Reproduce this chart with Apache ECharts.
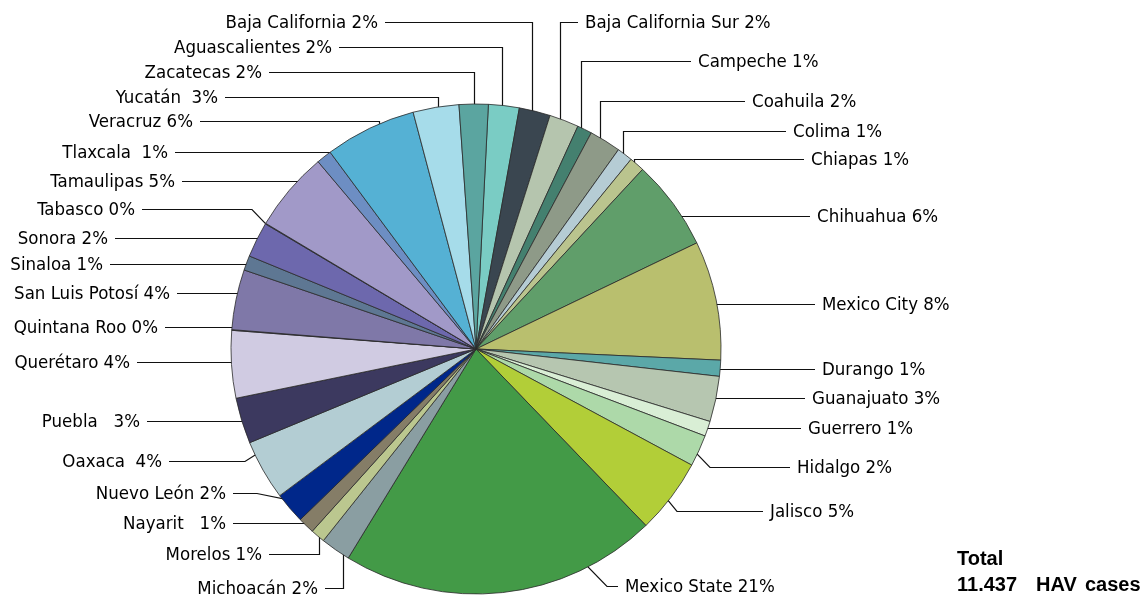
<!DOCTYPE html>
<html>
<head>
<meta charset="utf-8">
<script src="https://cdn.jsdelivr.net/npm/echarts@6/dist/echarts.min.js"></script>
<style>
  html, body { margin: 0; padding: 0; background: #fff; }
  #chart { width: 1144px; height: 596px; }
</style>
</head>
<body>
<div id="chart"></div>
<script>
const states = ['Aguascalientes', 'Baja California', 'Baja California Sur', 'Campeche', 'Coahuila',
  'Colima', 'Chiapas', 'Chihuahua', 'Mexico City', 'Durango', 'Guanajuato', 'Guerrero', 'Hidalgo',
  'Jalisco', 'Mexico State', 'Michoacán', 'Morelos', 'Nayarit', 'Nuevo León', 'Oaxaca', 'Puebla',
  'Querétaro', 'Quintana Roo', 'San Luis Potosí', 'Sinaloa', 'Sonora', 'Tabasco', 'Tamaulipas',
  'Tlaxcala', 'Veracruz', 'Yucatán', 'Zacatecas']

// HAV cases per state (total ~11.437)
const cases = [232, 235, 222, 111, 238, 118, 114, 683, 899, 121, 343, 114, 238,
  566, 2395, 226, 108, 124, 235, 454, 346,
  508, 5, 454, 111, 267, 5, 604,
  114, 689, 346, 219]

const labelTexts = ['Aguascalientes 2%', 'Baja California 2%', 'Baja California Sur 2%', 'Campeche 1%', 'Coahuila 2%',
  'Colima 1%', 'Chiapas 1%', 'Chihuahua 6%', 'Mexico City 8%', 'Durango 1%', 'Guanajuato 3%', 'Guerrero 1%', 'Hidalgo 2%',
  'Jalisco 5%', 'Mexico State 21%', 'Michoacán 2%', 'Morelos 1%', 'Nayarit   1%', 'Nuevo León 2%', 'Oaxaca  4%', 'Puebla   3%',
  'Querétaro 4%', 'Quintana Roo 0%', 'San Luis Potosí 4%', 'Sinaloa 1%', 'Sonora 2%', 'Tabasco 0%', 'Tamaulipas 5%',
  'Tlaxcala  1%', 'Veracruz 6%', 'Yucatán  3%', 'Zacatecas 2%']

const colors = ['#7accc4', '#3a4650', '#b5c5ae', '#44806f', '#8e9a88', '#b5ccd4', '#bac48e', '#609e6a',
  '#b9bf6e', '#5ba8a8', '#b6c6b0', '#d9eed5', '#add9a9', '#b2ce38', '#439a47', '#8a9ea2',
  '#bbc78f', '#857d67', '#00278a', '#b3cdd3', '#3c395f', '#d0cbe2', '#7f7ba8', '#7f78a8',
  '#5e7793', '#6d68ad', '#5a5fa0', '#a199c8', '#6d8ec3', '#55b1d4', '#a6dcea', '#5ba5a0']

// label placement: [text edge x, line y, kind, radius fraction of the line tip, position in slice, elbow x]
// kind v = drop down into slice, h = straight across, d = slanted then across
const labelSpots = [
  [332, 47, 'v', 0.93], [378, 22, 'v', 0.96], [585, 22, 'v', 0.95], [698, 61, 'v', 0.97],
  [752, 101, 'v', 0.96], [793, 131, 'v', 0.99], [811, 159, 'v', 0.98], [817, 216, 'h', 0.87],
  [822, 304, 'h', 0.83], [822, 369, 'h', 0.94], [812, 398, 'h', 0.92], [808, 428, 'h', 0.96],
  [797, 467, 'd', 0.96, 0.5, 710], [770, 511, 'd', 0.92, 0.5, 677], [625, 586, 'd', 0.86, 0.26, 607],
  [318, 588, 'v', 0.95], [262, 554, 'v', 0.99], [226, 523, 'h', 0.99], [226, 493, 'd', 0.96, 0.5, 257],
  [162, 461, 'd', 0.96, 0.8, 245], [140, 421, 'h', 0.93], [130, 362, 'h', 0.86], [158, 327, 'h', 1.0],
  [170, 293, 'h', 0.93], [103, 264, 'h', 0.96], [108, 238, 'h', 0.955], [135, 209, 'd', 1.0, 0.5, 252],
  [175, 181, 'v', 0.95], [168, 152, 'v', 0.97], [193, 121, 'v', 0.91], [218, 97, 'v', 0.94],
  [262, 72, 'v', 0.96]
]

const CX = 476
const CY = 349
const R = 245
const labelFont = "'Liberation Sans Narrow', 'Arial Narrow', 'DejaVu Sans Condensed', sans-serif"
const totalFont = 'bold 20px "Liberation Sans", Arial, sans-serif'

const chart = echarts.init(document.getElementById('chart'))

// snap to pixel centres so 1px lines stay crisp
const px = v => Math.round(v) + 0.5

const placeLabel = p => {
  const i = p.dataIndex
  const [tx, ly, kind, f, t = 0.5, ex] = labelSpots[i]
  const left = tx < CX
  const lay = chart.getModel().getSeriesByIndex(0).getData().getItemLayout(i)
  const r = R * f
  const y = px(ly)
  let tip
  if (kind === 'h') {
    const dy = ly - lay.cy
    tip = [lay.cx + (left ? -1 : 1) * Math.sqrt(Math.max(r * r - dy * dy, 0)), y]
  } else {
    const a = lay.startAngle + t * (lay.endAngle - lay.startAngle)
    tip = [lay.cx + r * Math.cos(a), lay.cy + r * Math.sin(a)]
    if (kind === 'v') tip[0] = px(tip[0])
  }
  const elbow = kind === 'd' ? [ex, y] : [tip[0], y]
  const end = [left ? tx + 7 : tx - 7, y]
  return {
    x: tx,
    y: ly + 1,
    align: left ? 'right' : 'left',
    verticalAlign: 'middle',
    labelLinePoints: [tip, elbow, end]
  }
}

const option = {
  animation: false,
  backgroundColor: '#fff',
  series: [
    {
      type: 'pie',
      center: [CX, CY],
      radius: R,
      startAngle: 87.1,
      clockwise: true,
      avoidLabelOverlap: false,
      minShowLabelAngle: 0,
      data: states.map((name, i) => ({
        name: name,
        value: cases[i],
        itemStyle: { color: colors[i] }
      })),
      itemStyle: { borderColor: '#2a2a2a', borderWidth: 0.8 },
      label: {
        show: true,
        position: 'outside',
        formatter: p => labelTexts[p.dataIndex],
        color: '#000',
        fontSize: 18.5,
        fontFamily: labelFont
      },
      labelLine: {
        show: true,
        length: 8,
        length2: 8,
        lineStyle: { color: '#111', width: 1.2 }
      },
      labelLayout: placeLabel,
      emphasis: { disabled: true }
    }
  ],
  graphic: [
    { type: 'text', x: 957, y: 559, style: { text: 'Total', font: totalFont, fill: '#000', verticalAlign: 'middle' } },
    { type: 'text', x: 957, y: 585, style: { text: '11.437', font: totalFont, fill: '#000', verticalAlign: 'middle' } },
    { type: 'text', x: 1036, y: 585, style: { text: 'HAV', font: totalFont, fill: '#000', verticalAlign: 'middle' } },
    { type: 'text', x: 1085, y: 585, style: { text: 'cases', font: totalFont, fill: '#000', verticalAlign: 'middle' } }
  ]
}

chart.setOption(option)
</script>
</body>
</html>
